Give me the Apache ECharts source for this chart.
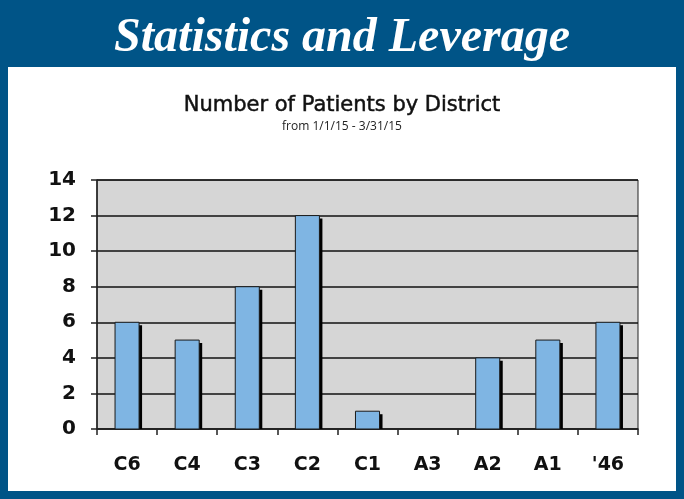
<!DOCTYPE html>
<html>
<head>
<meta charset="utf-8">
<script src="https://cdn.jsdelivr.net/npm/echarts@6/dist/echarts.min.js"></script>
<style>
  html, body { margin: 0; padding: 0; background: #fff; }
  #chart { width: 684px; height: 499px; }
</style>
</head>
<body>
<div id="chart"></div>
<script>
// districts and patient counts, Jan 1 - Mar 31 2015
const districts = ['C6', 'C4', 'C3', 'C2', 'C1', 'A3', 'A2', 'A1', "'46"]
const patients = [6, 5, 8, 12, 1, 0, 4, 5, 6]
const yTicks = [0, 2, 4, 6, 8, 10, 12, 14]

// bar with a hard black drop shadow on the right side
function renderBar(params, api) {
  let val = api.value(1)
  if (!val) return null
  let top = api.coord([api.value(0), val])
  let base = api.coord([api.value(0), 0])
  let w = api.size([1, 0])[0] * 0.4
  let x = top[0] - w / 2
  let h = base[1] - top[1]
  return {
    type: 'group',
    children: [
      {
        type: 'rect',
        shape: { x: x + 3, y: top[1] + 3, width: w, height: h - 3 },
        style: { fill: '#000' }
      },
      {
        type: 'rect',
        shape: { x: x, y: top[1], width: w, height: h },
        style: { fill: '#7fb5e3', stroke: '#1a1a1a', lineWidth: 1 }
      }
    ]
  }
}

let myChart = echarts.init(document.getElementById('chart'))
let options = {
  backgroundColor: '#005487',
  animation: false,
  graphic: [
    {
      type: 'rect',
      shape: { x: 8, y: 67, width: 668, height: 424 },
      style: { fill: '#ffffff' },
      z: -1
    },
    {
      type: 'text',
      left: 'center',
      top: 15,
      style: {
        text: 'Statistics and Leverage',
        fill: '#ffffff',
        font: 'italic bold 48px "Liberation Serif", serif'
      }
    }
  ],
  title: {
    text: 'Number of Patients by District',
    subtext: 'from 1/1/15 - 3/31/15',
    left: 'center',
    top: 90,
    itemGap: 4,
    textStyle: {
      fontFamily: 'DejaVu Sans',
      fontSize: 21,
      fontWeight: 'normal',
      color: '#111',
      textBorderColor: '#111',
      textBorderWidth: 0.5
    },
    subtextStyle: {
      fontFamily: 'Open Sans',
      fontSize: 12,
      color: '#222'
    }
  },
  grid: {
    left: 97,
    right: 46,
    top: 180,
    bottom: 70,
    show: true,
    backgroundColor: '#d6d6d6',
    borderColor: '#222',
    borderWidth: 1
  },
  xAxis: {
    type: 'category',
    data: districts,
    axisLine: { lineStyle: { color: '#222', width: 1.5 } },
    axisTick: { show: true, length: 6, lineStyle: { color: '#222', width: 1.5 } },
    axisLabel: {
      margin: 27,
      fontFamily: 'DejaVu Sans',
      fontWeight: 'bold',
      fontSize: 19,
      color: '#111'
    }
  },
  yAxis: {
    type: 'value',
    min: yTicks[0],
    max: yTicks[yTicks.length - 1],
    interval: 2,
    axisLine: { show: true, lineStyle: { color: '#222', width: 1.5 } },
    axisTick: { show: true, length: 6, lineStyle: { color: '#222', width: 1.5 } },
    splitLine: { lineStyle: { color: '#111', width: 1.5 } },
    axisLabel: {
      margin: 21,
      fontFamily: 'DejaVu Sans',
      fontWeight: 'bold',
      fontSize: 20,
      color: '#111'
    }
  },
  series: [
    {
      name: 'Patients',
      type: 'custom',
      renderItem: renderBar,
      encode: { x: 0, y: 1 },
      data: districts.map((d, i) => [i, patients[i]])
    }
  ]
}
myChart.setOption(options)
</script>
</body>
</html>
